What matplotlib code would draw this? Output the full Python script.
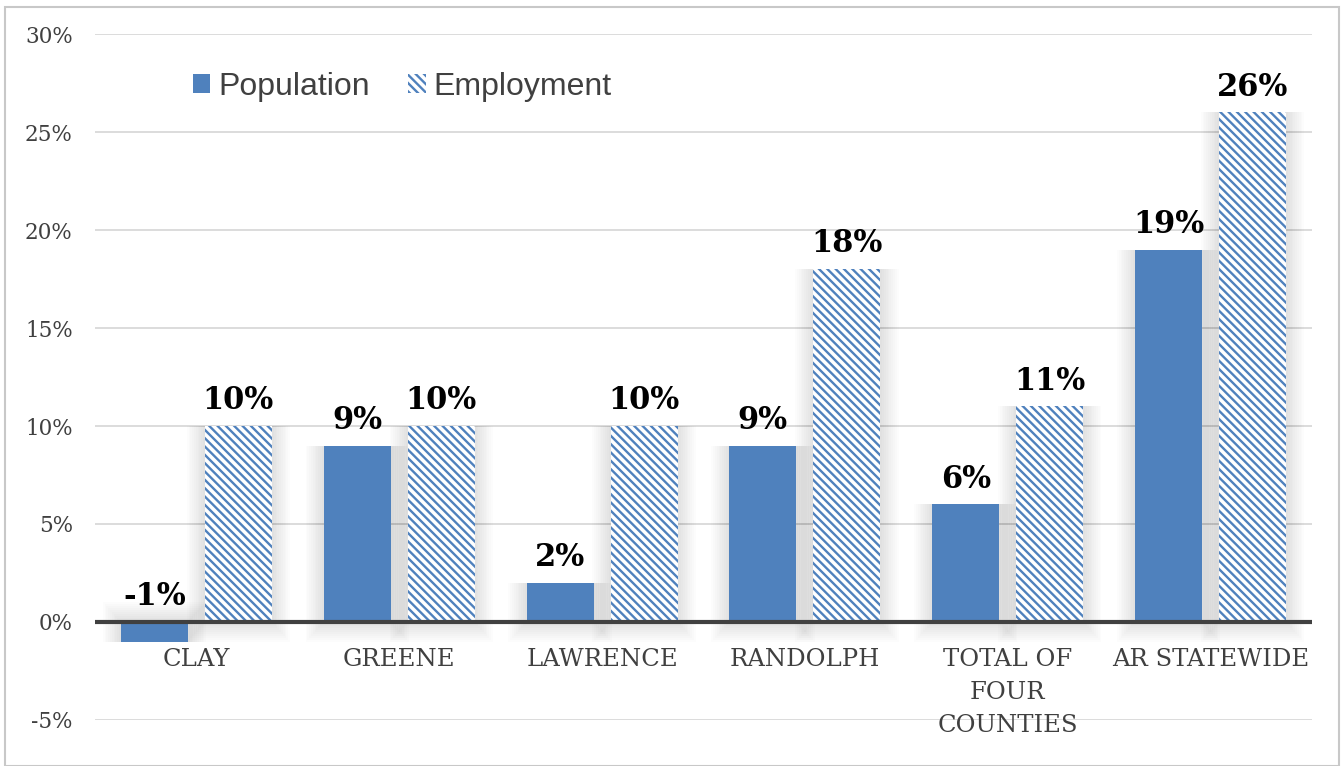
import numpy as np
import matplotlib
matplotlib.use("Agg")
import matplotlib.pyplot as plt
from matplotlib.patches import Rectangle, Patch
from matplotlib.ticker import FuncFormatter

categories = ["CLAY", "GREENE", "LAWRENCE", "RANDOLPH", "TOTAL OF\nFOUR\nCOUNTIES", "AR STATEWIDE"]
population = [-1, 9, 2, 9, 6, 19]
employment = [10, 10, 10, 18, 11, 26]
series_names = ["Population", "Employment"]

blue = "#4f81bd"
hatch = "\\" * 4
plt.rcParams['hatch.linewidth'] = 1.7
plt.rcParams['hatch.color'] = blue

fig = plt.figure(figsize=(13.44, 7.66), dpi=100)
ax = fig.add_axes([95 / 1344, 1 - 720 / 766, (1312 - 95) / 1344, (720 - 34) / 766])

# outer chart border
fig.patches.append(Rectangle((5 / 1344, 0), 1334 / 1344, 1 - 7 / 766, transform=fig.transFigure,
                             fill=False, edgecolor="#c8c8c8", linewidth=1.5))

x = np.arange(len(categories))
off = 0.207
w = 0.33


def shadow(xs, vals):
    # soft glow behind the bars
    for k in range(1, 11):
        grow = 0.009 * k
        ax.bar(xs, [v + np.sign(v) * 0.1 * k for v in vals], width=w + 2 * grow,
               bottom=[-np.sign(v) * 0.1 * k for v in vals],
               color="#000000", alpha=0.011, linewidth=0, zorder=1)


shadow(x - off, population)
shadow(x + off, employment)

ax.bar(x - off, population, width=w, color=blue, linewidth=0, zorder=3)
ax.bar(x + off, employment, width=w, color="white", edgecolor=blue, hatch=hatch,
       linewidth=0, zorder=3)

lab_font = dict(family="DejaVu Serif", fontweight="bold", fontsize=22, color="black")
for xi, v in zip(x - off, population):
    ax.text(xi, max(v, 0) + 0.5, f"{v}%", ha="center", va="bottom", **lab_font, zorder=5)
for xi, v in zip(x + off, employment):
    ax.text(xi, v + 0.5, f"{v}%", ha="center", va="bottom", **lab_font, zorder=5)

ax.axhline(0, color="#404040", linewidth=3, zorder=4)

ax.set_ylim(-5, 30)
ax.set_xlim(-0.5, len(categories) - 0.5)
ax.set_yticks(np.arange(-5, 31, 5))
ax.yaxis.set_major_formatter(FuncFormatter(lambda v, p: f"{int(v)}%"))
ax.grid(axis="y", color="#d9d9d9", linewidth=1.3, zorder=0)
ax.set_axisbelow(True)
for s in ax.spines.values():
    s.set_visible(False)
ax.tick_params(axis="y", length=0, pad=16, labelsize=15.5, labelcolor="#404040")
ax.set_xticks([])
for xi, c in zip(x, categories):
    ax.text(xi, -1.35, c, ha="center", va="top", fontsize=17.5, family="DejaVu Serif",
            color="#404040", linespacing=1.55)
for t in ax.get_yticklabels():
    t.set_family("DejaVu Serif")

handles = [Patch(facecolor=blue, edgecolor="none"),
           Patch(facecolor="white", edgecolor=blue, hatch=hatch, linewidth=0)]
fig.legend(handles, series_names, loc="center left", bbox_to_anchor=(164 / 1344, 1 - 87 / 766),
           ncol=2, frameon=False, handlelength=0.55, handleheight=0.55,
           handletextpad=0.25, columnspacing=1.2, labelcolor="#404040",
           prop={"family": "Liberation Sans", "size": 23})

fig.savefig("out.png", dpi=100)
